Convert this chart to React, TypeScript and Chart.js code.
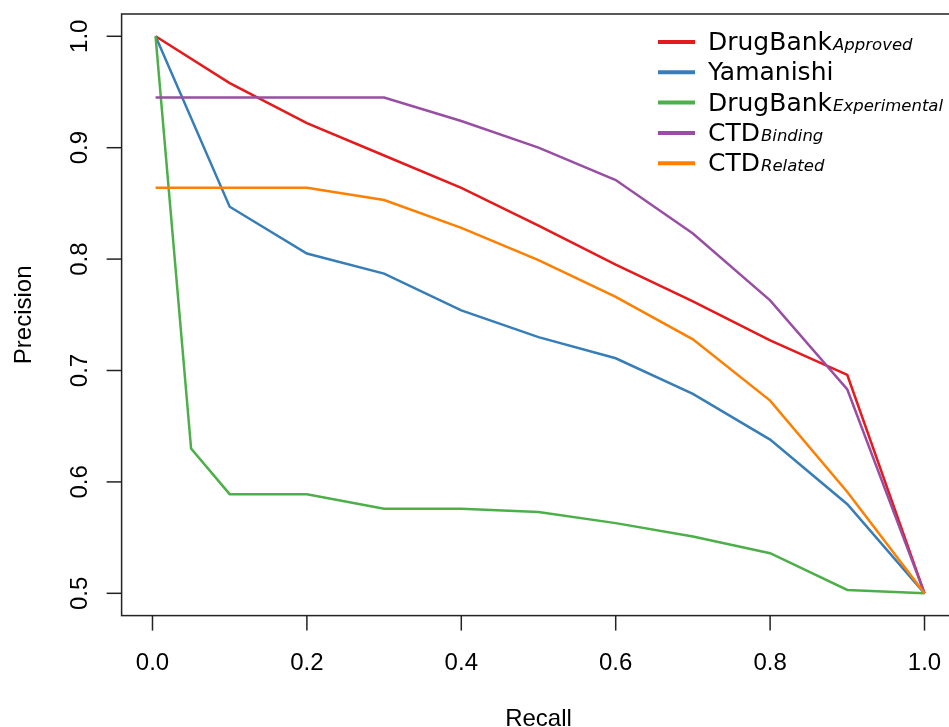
import React, { useEffect, useRef } from "react";
import { Chart, registerables } from "chart.js";
Chart.register(...registerables);

// Recall values (x)
const recall = [0.004, 0.1, 0.2, 0.3, 0.4, 0.5, 0.6, 0.7, 0.8, 0.9, 1.0];
const recallExperimental = [0.004, 0.05, 0.1, 0.2, 0.3, 0.4, 0.5, 0.6, 0.7, 0.8, 0.9, 1.0];

// Precision values (y)
const drugBankApproved = [1.0, 0.958, 0.922, 0.893, 0.864, 0.83, 0.795, 0.762, 0.727, 0.696, 0.5];
const yamanishi = [1.0, 0.847, 0.805, 0.787, 0.754, 0.73, 0.711, 0.679, 0.638, 0.58, 0.5];
const drugBankExperimental = [1.0, 0.63, 0.589, 0.589, 0.576, 0.576, 0.573, 0.563, 0.551, 0.536, 0.503, 0.5];
const ctdBinding = [0.945, 0.945, 0.945, 0.945, 0.924, 0.9, 0.871, 0.823, 0.763, 0.683, 0.5];
const ctdRelated = [0.864, 0.864, 0.864, 0.853, 0.828, 0.799, 0.766, 0.728, 0.673, 0.591, 0.5];

const seriesMain = ["DrugBank", "Yamanishi", "DrugBank", "CTD", "CTD"];
const seriesSub = ["Approved", "", "Experimental", "Binding", "Related"];
const seriesColors = ["#E41A1C", "#377EB8", "#4DAF4A", "#984EA3", "#FF7F00"];

const xTicks = [0, 0.2, 0.4, 0.6, 0.8, 1.0];
const xTickLabels = ["0.0", "0.2", "0.4", "0.6", "0.8", "1.0"];
const yTicks = [0.5, 0.6, 0.7, 0.8, 0.9, 1.0];
const yTickLabels = ["0.5", "0.6", "0.7", "0.8", "0.9", "1.0"];
const xTitle = "Recall";
const yTitle = "Precision";

const TICK_FONT = '24px "Liberation Sans", Arial, Helvetica, sans-serif';
const LEG_FONT = '25px "DejaVu Sans", sans-serif';
const LEG_SUB_FONT = 'italic 16.5px "DejaVu Sans", sans-serif';

const toPoints = (xs: number[], ys: number[]) => ys.map((y, i) => ({ x: xs[i], y }));

const axesPlugin = {
  id: "rAxes",
  afterDraw(chart: any) {
    const { ctx, chartArea } = chart;
    const xs = chart.scales.x;
    const ys = chart.scales.y;
    const { left, top, right, bottom } = chartArea;
    ctx.save();
    ctx.strokeStyle = "#222";
    ctx.lineWidth = 1.5;
    ctx.strokeRect(left, top, right - left, bottom - top);
    ctx.fillStyle = "#000";
    ctx.font = TICK_FONT;
    // x ticks
    ctx.textAlign = "center";
    ctx.textBaseline = "alphabetic";
    xTicks.forEach((v, i) => {
      const px = xs.getPixelForValue(v);
      ctx.beginPath();
      ctx.moveTo(px, bottom);
      ctx.lineTo(px, bottom + 15);
      ctx.stroke();
      ctx.fillText(xTickLabels[i], px, 669.5);
    });
    // y ticks
    yTicks.forEach((v, i) => {
      const py = ys.getPixelForValue(v);
      ctx.beginPath();
      ctx.moveTo(left - 15, py);
      ctx.lineTo(left, py);
      ctx.stroke();
      ctx.save();
      ctx.translate(87, py);
      ctx.rotate(-Math.PI / 2);
      ctx.fillText(yTickLabels[i], 0, 0);
      ctx.restore();
    });
    // titles
    ctx.fillText(xTitle, (left + right) / 2, 726);
    ctx.save();
    ctx.translate(30.5, (top + bottom) / 2);
    ctx.rotate(-Math.PI / 2);
    ctx.fillText(yTitle, 0, 0);
    ctx.restore();

    // legend
    const lx0 = 658;
    const lx1 = 695;
    const tx = 708;
    const y0 = 42;
    const dy = 30.3;
    chart.data.datasets.forEach((ds: any, i: number) => {
      const cy = y0 + i * dy;
      ctx.strokeStyle = seriesColors[i];
      ctx.lineWidth = 4;
      ctx.beginPath();
      ctx.moveTo(lx0, cy);
      ctx.lineTo(lx1, cy);
      ctx.stroke();
      ctx.textAlign = "left";
      ctx.fillStyle = "#000";
      ctx.font = LEG_FONT;
      ctx.fillText(seriesMain[i], tx, cy + 8);
      const w = ctx.measureText(seriesMain[i]).width;
      if (seriesSub[i]) {
        ctx.font = LEG_SUB_FONT;
        ctx.fillText(seriesSub[i], tx + w + 1, cy + 8);
      }
    });
    ctx.restore();
  },
};

export default function App() {
  const ref = useRef<HTMLCanvasElement>(null);
  useEffect(() => {
    if (!ref.current) return;
    const series = [
      toPoints(recall, drugBankApproved),
      toPoints(recall, yamanishi),
      toPoints(recallExperimental, drugBankExperimental),
      toPoints(recall, ctdBinding),
      toPoints(recall, ctdRelated),
    ];
    const chart = new Chart(ref.current, {
      type: "line",
      data: {
        datasets: series.map((d, i) => ({
          label: seriesMain[i] + seriesSub[i],
          data: d,
          borderColor: seriesColors[i],
          backgroundColor: seriesColors[i],
          borderWidth: 2.5,
          pointRadius: 0,
          tension: 0,
          fill: false,
          order: 5 - i,
        })),
      },
      options: {
        responsive: false,
        animation: false,
        layout: { padding: { left: 121.6, top: 14, right: 960 - 955.4, bottom: 727 - 615.6 } },
        plugins: { legend: { display: false }, tooltip: { enabled: false } },
        scales: {
          x: { type: "linear", min: -0.04, max: 1.04, display: false },
          y: { type: "linear", min: 0.48, max: 1.02, display: false },
        },
      },
      plugins: [axesPlugin],
    });
    return () => chart.destroy();
  }, []);
  return (
    <div
      style={{
        position: "fixed",
        left: 0,
        top: 0,
        width: 949,
        height: 727,
        overflow: "hidden",
        background: "#fff",
      }}
    >
      <canvas ref={ref} width={960} height={727} style={{ display: "block" }} />
    </div>
  );
}
